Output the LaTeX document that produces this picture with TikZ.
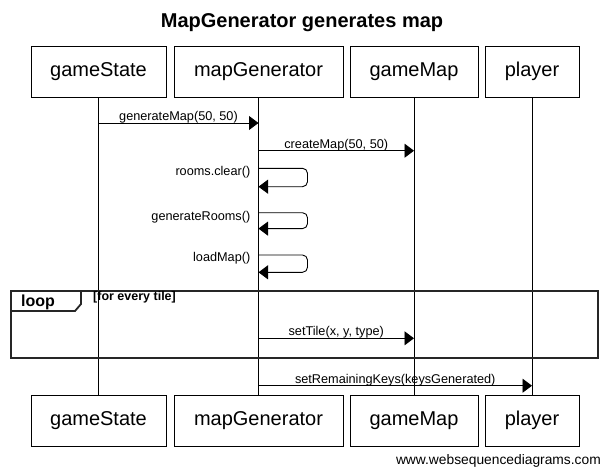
\documentclass[tikz,border=0pt]{standalone}
\usepackage{fontspec}
\setmainfont{Liberation Sans}
\usetikzlibrary{arrows.meta}
\begin{document}
\begin{tikzpicture}[x=1pt,y=-1pt,
  actor/.style={draw,line width=1pt,minimum height=51pt,inner sep=0pt,font=\fontsize{20}{24}\selectfont},
  msg/.style={line width=0.9pt,-{Triangle[length=9.5pt,width=14pt]}},
  lbl/.style={font=\fontsize{12.7}{15}\selectfont,inner sep=0pt,anchor=base},
  sl/.style={font=\fontsize{12.7}{15}\selectfont,inner sep=0pt,anchor=base east},
  life/.style={line width=0.8pt}
]
\useasboundingbox[fill=white] (0,0) rectangle (604,469);
\node[font=\bfseries\fontsize{20}{24}\selectfont] (title) at (302,23) {MapGenerator generates map};
% top actors
\node[actor,minimum width=135pt] (gsT) at (98.5,71.5) {gameState};
\node[actor,minimum width=169pt] (mgT) at (258.5,71.5) {mapGenerator};
\node[actor,minimum width=128pt] (gmT) at (414,71.5) {gameMap};
\node[actor,minimum width=94pt] (plT) at (532,71.5) {player};
% bottom actors
\node[actor,minimum width=135pt] (gsB) at (98.5,420.5) {gameState};
\node[actor,minimum width=169pt] (mgB) at (258.5,420.5) {mapGenerator};
\node[actor,minimum width=128pt] (gmB) at (414,420.5) {gameMap};
\node[actor,minimum width=94pt] (plB) at (532,420.5) {player};
% lifelines
\draw[life] (gsT.south) -- (gsB.north);
\draw[life] (mgT.south) -- (mgB.north);
\draw[life] (gmT.south) -- (gmB.north);
\draw[life] (plT.south) -- (plB.north);
% coordinates on lifelines
\coordinate (m1a) at (gsT.south |- 0,123);
\coordinate (m1b) at (mgT.south |- 0,123);
\coordinate (m2a) at (mgT.south |- 0,150.7);
\coordinate (m2b) at (gmT.south |- 0,150.7);
\coordinate (s1a) at (mgT.south |- 0,168.3);
\coordinate (s1b) at (mgT.south |- 0,186.7);
\coordinate (s2a) at (mgT.south |- 0,212.7);
\coordinate (s2b) at (mgT.south |- 0,228.6);
\coordinate (s3a) at (mgT.south |- 0,255);
\coordinate (s3b) at (mgT.south |- 0,272.3);
\coordinate (m3a) at (mgT.south |- 0,338.3);
\coordinate (m3b) at (gmT.south |- 0,338.3);
\coordinate (m4a) at (mgT.south |- 0,385.7);
\coordinate (m4b) at (plT.south |- 0,385.7);
% messages
\draw[msg] (m1a) -- node[lbl,yshift=2.5pt] (l1) {generateMap(50, 50)} (m1b);
\draw[msg] (m2a) -- node[lbl,yshift=2.5pt] (l2) {createMap(50, 50)} (m2b);
\draw[msg,rounded corners=5pt] (s1a) -- ++(49,0) -- ++(0,18.4) -- (s1b);
\node[sl] (ls1) at ([xshift=-8pt,yshift=-7.5pt]s1a) {rooms.clear()};
\draw[msg,rounded corners=5pt] (s2a) -- ++(49,0) -- ++(0,15.9) -- (s2b);
\node[sl] (ls2) at ([xshift=-8pt,yshift=-7.5pt]s2a) {generateRooms()};
\draw[msg,rounded corners=5pt] (s3a) -- ++(49,0) -- ++(0,17.3) -- (s3b);
\node[sl] (ls3) at ([xshift=-8pt,yshift=-6pt]s3a) {loadMap()};
% loop frame
\draw[line width=2.4pt,black!85] (11,291) rectangle (598,358);
\draw[line width=1.8pt,black!85] (11,311) -- (75,311) -- (81,304) -- (81,291);
\node[font=\bfseries\fontsize{16}{18}\selectfont,inner sep=0pt] (looplbl) at (38,302) {loop};
\node[font=\bfseries\fontsize{12.5}{15}\selectfont,inner sep=0pt,anchor=base west] (cond) at (93,300.5) {[for every tile]};
\draw[msg] (m3a) -- node[lbl,yshift=2.5pt] (l3) {setTile(x, y, type)} (m3b);
\draw[msg] (m4a) -- node[lbl,yshift=2.5pt] (l4) {setRemainingKeys(keysGenerated)} (m4b);
% footer
\node[font=\fontsize{13.8}{16}\selectfont,inner sep=0pt,anchor=base east] (foot) at (601,464) {www.websequencediagrams.com};
\end{tikzpicture}
\end{document}
